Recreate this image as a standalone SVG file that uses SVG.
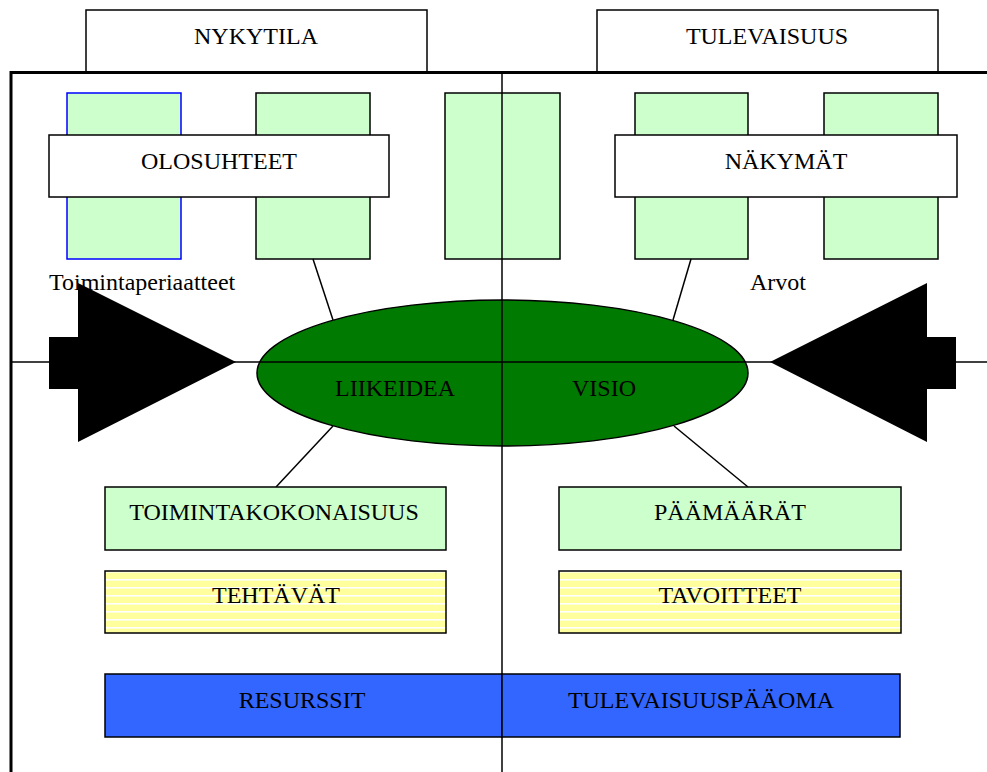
<svg xmlns="http://www.w3.org/2000/svg" width="987" height="772" viewBox="0 0 987 772">
<defs>
<style>
text{font-family:"Liberation Serif","Times New Roman",serif;font-size:24px;fill:#000;text-anchor:middle}
.hdr{fill:#fff;stroke:#000;stroke-width:1.5}
.tall{fill:#ccffcc;stroke:#000;stroke-width:1.5}
.wbox{fill:#fff;stroke:#000;stroke-width:1.5}
.gbox{fill:#ccffcc;stroke:#000;stroke-width:1.5}
.ybox{fill:url(#stripes);stroke:#000;stroke-width:1.5}
.conn{stroke:#000;stroke-width:1.5;fill:none}
.arrow{fill:#000;stroke:none}
</style>
<pattern id="stripes" x="0" y="571" width="8" height="8" patternUnits="userSpaceOnUse">
<rect width="8" height="8" fill="#ffff9e"/>
<rect y="0" width="8" height="1.6" fill="#ffffff"/>
</pattern>
</defs>
<rect width="987" height="772" fill="#fff"/>

<g id="hdr-nykytila"><rect class="hdr" x="86" y="10" width="341" height="63"/><text x="256" y="44">NYKYTILA</text></g>
<g id="hdr-tulevaisuus"><rect class="hdr" x="597" y="10" width="341" height="63"/><text x="767" y="44">TULEVAISUUS</text></g>

<g id="frame">
<line x1="10" y1="72.5" x2="987" y2="72.5" stroke="#000" stroke-width="3"/>
<line x1="11" y1="71" x2="11" y2="772" stroke="#000" stroke-width="3"/>
</g>

<g id="pillar1"><rect x="67" y="93" width="114" height="166" fill="#ccffcc" stroke="#0000ff" stroke-width="1.5"/></g>
<g id="pillar2"><rect class="tall" x="256" y="93" width="114" height="166"/></g>
<g id="pillar3"><rect class="tall" x="445" y="93" width="115" height="166"/></g>
<g id="pillar4"><rect class="tall" x="635" y="93" width="113" height="166"/></g>
<g id="pillar5"><rect class="tall" x="824" y="93" width="114" height="166"/></g>

<g id="olosuhteet"><rect class="wbox" x="49" y="135" width="340" height="62"/><text x="219" y="169">OLOSUHTEET</text></g>
<g id="nakymat"><rect class="wbox" x="615" y="135" width="342" height="62"/><text x="786" y="169">NÄKYMÄT</text></g>

<g id="ellipse"><ellipse cx="502.5" cy="373" rx="245.5" ry="73" fill="#007a00" stroke="#000" stroke-width="1.5"/></g>

<g id="connectors">
<line class="conn" x1="502" y1="73" x2="502" y2="772"/>
<line class="conn" x1="11" y1="362" x2="987" y2="362"/>
<line class="conn" x1="313" y1="259" x2="333" y2="320"/>
<line class="conn" x1="691" y1="259" x2="673" y2="320"/>
<line class="conn" x1="333" y1="426" x2="276" y2="487"/>
<line class="conn" x1="674" y1="426" x2="748" y2="487"/>
</g>

<g id="ellipse-labels"><text x="395" y="396">LIIKEIDEA</text><text x="604" y="396">VISIO</text></g>

<g id="arrow-left"><polygon class="arrow" points="49,337 78,337 78,283 236,362 78,442 78,389 49,389"/></g>
<g id="arrow-right"><polygon class="arrow" points="956,337 927,337 927,283 770,362 927,442 927,389 956,389"/></g>

<g id="label-toiminta"><text x="49" y="290" style="text-anchor:start">Toimintaperiaatteet</text></g>
<g id="label-arvot"><text x="750" y="290" style="text-anchor:start">Arvot</text></g>

<g id="toimintakokonaisuus"><rect class="gbox" x="105" y="487" width="341" height="63"/><text x="274" y="520">TOIMINTAKOKONAISUUS</text></g>
<g id="paamaarat"><rect class="gbox" x="559" y="487" width="342" height="63"/><text x="730" y="520">PÄÄMÄÄRÄT</text></g>
<g id="tehtavat"><rect class="ybox" x="105" y="571" width="341" height="62"/><text x="276" y="603">TEHTÄVÄT</text></g>
<g id="tavoitteet"><rect class="ybox" x="559" y="571" width="342" height="62"/><text x="730" y="603">TAVOITTEET</text></g>

<g id="resurssit"><rect x="105" y="674" width="397" height="63" fill="#3366ff" stroke="#000" stroke-width="1.5"/><text x="302" y="708">RESURSSIT</text></g>
<g id="tulevaisuuspaaoma"><rect x="502" y="674" width="398" height="63" fill="#3366ff" stroke="#000" stroke-width="1.5"/><text x="701" y="708">TULEVAISUUSPÄÄOMA</text></g>
</svg>
